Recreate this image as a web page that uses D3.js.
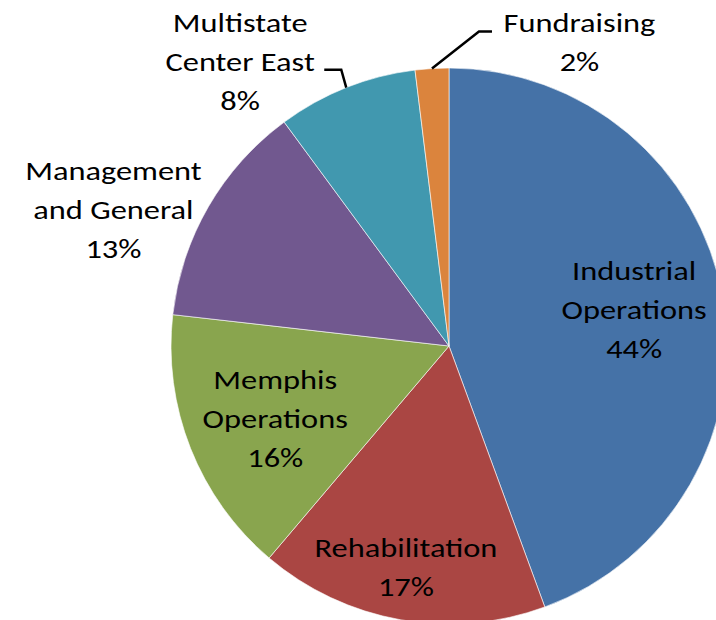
<!DOCTYPE html>
<html>
<head>
<meta charset="utf-8">
<script src="https://cdn.jsdelivr.net/npm/d3@7"></script>
<style>
    body { margin: 0; background: #fff; }
    #pieChart text { font-family: Calibri, Carlito, Lato, sans-serif; font-size: 27px; fill: #000; }
</style>
</head>
<body>
<div id="pieChart"></div>
<script>
// Kategorier och andelar (procent), medurs från klockan 12
const categories = ["Industrial Operations", "Rehabilitation", "Memphis Operations",
    "Management and General", "Multistate Center East", "Fundraising"];
const shares = [44.4, 16.8, 15.6, 13.1, 8.15, 1.95];
const labelLines = [
    ["Industrial", "Operations"],
    ["Rehabilitation"],
    ["Memphis", "Operations"],
    ["Management", "and General"],
    ["Multistate", "Center East"],
    ["Fundraising"]
];
const sliceColors = ["#4572A7", "#AA4643", "#89A54E", "#71588F", "#4198AF", "#DB843D"];

// Etikettplacering: förskjutning från centroid, och hävarmar för de utanför
const labelNudge = [[-1, -4], [-10, 34], [2, 2], [-172, -42], [-139, -109], [142, -116]];
const leaders = [null, null, null, null, [-5, -18, -17], [47, -37, 13]];

function drawPie() {
    const width = 716;
    const height = 620;
    const radius = 278;
    const cx = 449;
    const cy = 346;
    const lineHeight = 39;
    const stretch = 1.2; // texten i originalet är utdragen på bredden

    const dataArray = categories.map((c, i) => ({
        name: c, value: shares[i], lines: labelLines[i], idx: i
    }));

    const svg = d3.select("#pieChart")
        .append("svg")
        .attr("width", width)
        .attr("height", height)
        .append("g")
        .attr("transform", `translate(${cx},${cy})`);

    const pie = d3.pie()
        .sort(null)
        .value(d => d.value);

    const data_ready = pie(dataArray);

    const arc = d3.arc()
        .innerRadius(0)
        .outerRadius(radius);

    const labelArc = d3.arc()
        .innerRadius(radius * 0.68)
        .outerRadius(radius * 0.68);

    const edgeArc = d3.arc()
        .innerRadius(radius)
        .outerRadius(radius);

    svg.selectAll("path.slice")
        .data(data_ready)
        .enter()
        .append("path")
        .attr("class", "slice")
        .attr("d", arc)
        .attr("fill", d => sliceColors[d.data.idx])
        .attr("stroke", "#fff")
        .style("stroke-width", "0.6px");

    // hävarmar
    svg.selectAll("path.leader")
        .data(data_ready.filter(d => leaders[d.data.idx]))
        .enter()
        .append("path")
        .attr("class", "leader")
        .attr("fill", "none")
        .attr("stroke", "#000")
        .style("stroke-width", "2.5px")
        .attr("d", d => {
            const [x0, y0] = edgeArc.centroid(d);
            const [ex, ey, tx] = leaders[d.data.idx];
            return d3.line()([[x0, y0], [x0 + ex, y0 + ey], [x0 + ex + tx, y0 + ey]]);
        });

    const labels = svg.selectAll("text.label")
        .data(data_ready)
        .enter()
        .append("text")
        .attr("class", "label")
        .style("text-anchor", "middle")
        .attr("transform", d => {
            const [x, y] = labelArc.centroid(d);
            const [nx, ny] = labelNudge[d.data.idx];
            return `translate(${x + nx}, ${y + ny}) scale(${stretch}, 1)`;
        });

    labels.each(function(d) {
        const lines = d.data.lines.concat([Math.round(d.data.value) + "%"]);
        const first = -(lines.length - 1) / 2 * lineHeight + 10;
        lines.forEach((t, i) => {
            d3.select(this).append("tspan")
                .attr("x", 0)
                .attr("y", first + i * lineHeight)
                .text(t);
        });
    });
}

drawPie();
</script>
</body>
</html>
